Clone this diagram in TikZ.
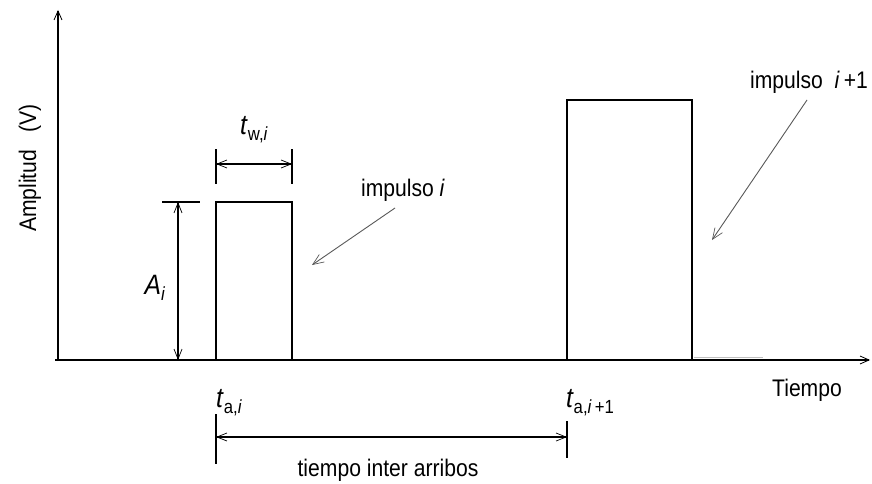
\documentclass[tikz,border=0pt]{standalone}
\usepackage{fontspec}
\setmainfont[FakeStretch=0.88]{Liberation Sans}
\usetikzlibrary{arrows.meta}
\newcommand{\lblsub}[2]{\textit{#1}\raisebox{-0.4ex}{\fontsize{19}{22}\selectfont #2}}
\begin{document}
\begin{tikzpicture}[x=1pt,y=-1pt,
  line/.style={line width=1.7pt, line cap=rect},
  axis/.style={line width=1.7pt, -{Straight Barb[length=9pt,width=8pt,line width=0.8pt]}},
  dim/.style={line width=1.4pt, {Straight Barb[length=10pt,width=8pt,line width=0.7pt]}-{Straight Barb[length=10pt,width=8pt,line width=0.7pt]}},
  ptr/.style={line width=0.9pt, draw=black!65, -{Straight Barb[length=11pt,width=9pt,line width=0.7pt]}},
  lbl/.style={font=\fontsize{24}{28}\selectfont, inner sep=0pt},
  big/.style={font=\fontsize{28}{32}\selectfont, inner sep=0pt}]
\useasboundingbox (0,0) rectangle (872,484);
% axes
\coordinate (xs) at (55,360);
\coordinate (xe) at (870,360);
\coordinate (o) at (58,361);
\coordinate (yt) at (58,10);
\draw[axis] (xs) -- (xe);
\draw[axis] (o) -- (yt);
% pulse 1
\coordinate (p1a) at (216,360);
\coordinate (p1b) at (216,202);
\coordinate (p1c) at (292,202);
\coordinate (p1d) at (292,360);
\draw[line] (p1a) -- (p1b) -- (p1c) -- (p1d);
% pulse 2
\coordinate (p2a) at (567,360);
\coordinate (p2b) at (567,100);
\coordinate (p2c) at (692,100);
\coordinate (p2d) at (692,360);
\draw[line] (p2a) -- (p2b) -- (p2c) -- (p2d);
\coordinate (g1) at (694,357.5);
\coordinate (g2) at (763,357.5);
\draw[black!25, line width=1pt] (g1) -- (g2);
% A_i dimension
\coordinate (at1) at (163,202);
\coordinate (at2) at (199,202);
\draw[line] (at1) -- (at2);
\coordinate (ad1) at (178,202);
\coordinate (ad2) at (178,360);
\draw[dim] (ad1) -- (ad2);
% t_w dimension
\coordinate (tw1) at (216,150);
\coordinate (tw2) at (216,183);
\coordinate (tw3) at (292,150);
\coordinate (tw4) at (292,183);
\draw[line] (tw1) -- (tw2);
\draw[line] (tw3) -- (tw4);
\coordinate (twa) at (216,164);
\coordinate (twb) at (292,164);
\draw[dim] (twa) -- (twb);
% inter-arrival dimension
\coordinate (ia1) at (216,415);
\coordinate (ia2) at (216,463);
\coordinate (ia3) at (567,422);
\coordinate (ia4) at (567,457);
\draw[line] (ia1) -- (ia2);
\draw[line] (ia3) -- (ia4);
\coordinate (iaa) at (216,437);
\coordinate (iab) at (567,437);
\draw[dim] (iaa) -- (iab);
% labels
\node[lbl, rotate=90] (amp) at (30,168) {Amplitud\ \ \ (V)};
\node[big] (tw) at (254,130) {\lblsub{t}{w,\textit{i}}};
\node[big] (ai) at (155,288) {\lblsub{A}{\textit{i}}};
\node[lbl] (imp1) at (403,190) {impulso \textit{i}};
\node[lbl] (imp2) at (809,82) {impulso\ \ \textit{i}\,+1};
\node[lbl] (tiempo) at (807,390) {Tiempo};
\node[big] (tai) at (229,403) {\lblsub{t}{a,\textit{i}}};
\node[big] (tai1) at (590,403) {\lblsub{t}{a,\textit{i}\,+1}};
\node[lbl] (inter) at (388,470) {tiempo inter arribos};
% pointers
\coordinate (q1s) at (395,208);
\coordinate (q1e) at (312,265);
\draw[ptr] (q1s) -- (q1e);
\coordinate (q2s) at (807,100);
\coordinate (q2e) at (712,240);
\draw[ptr] (q2s) -- (q2e);
\end{tikzpicture}
\end{document}
